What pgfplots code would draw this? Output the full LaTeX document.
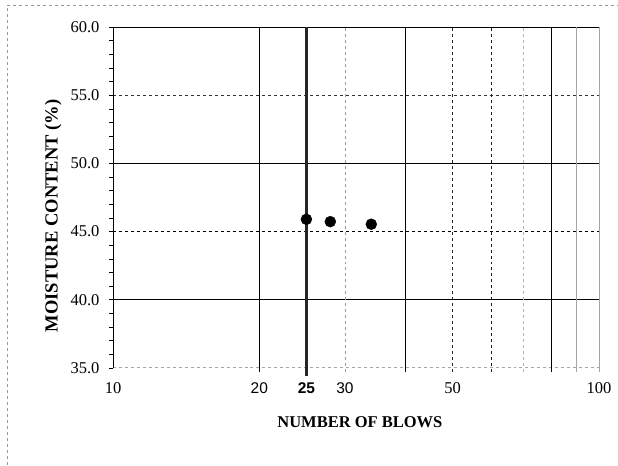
\documentclass[border=0pt]{standalone}
\usepackage{fontspec}
\setmainfont{Liberation Serif}
\newfontfamily\arialf{Liberation Sans}
\usepackage{pgfplots}
\pgfplotsset{compat=1.18}
\begin{document}
\begin{tikzpicture}
\useasboundingbox (0,0) rectangle (618bp,466bp);
\draw[gray!80, dashed, line width=0.8bp] (7bp,-5bp) -- (7bp,461bp) -- (625bp,461bp);
\begin{axis}[
  at={(113bp,98bp)}, anchor=south west,
  scale only axis, width=486bp, height=341bp,
  xmode=log, xmin=10, xmax=100, ymin=35, ymax=60,
  axis line style={draw=none},
  clip=false,
  xtick={10,20,25,30,50,100},
  xticklabels={10,{\arialf\fontsize{15.5bp}{17bp}\selectfont 20},{\arialf\bfseries\fontsize{15.5bp}{17bp}\selectfont 25},{\arialf\fontsize{15.5bp}{17bp}\selectfont 30},50,100},
  xtick style={draw=none},
  xminorticks=false,
  xticklabel style={font=\fontsize{16.5bp}{18bp}\selectfont, yshift=-7bp},
  ytick={35,40,45,50,55,60},
  yticklabels={35.0,40.0,45.0,50.0,55.0,60.0},
  minor y tick num=4,
  ytick pos=left,
  yticklabel style={font=\fontsize{16.5bp}{18bp}\selectfont, xshift=-6bp},
  tick align=outside,
  major tick length=4bp, minor tick length=4bp,
  ytick style={black, line width=0.6bp},
  every minor tick/.append style={black, line width=0.6bp},
  xlabel={\bfseries NUMBER OF BLOWS},
  xlabel style={font=\fontsize{16.5bp}{18bp}\selectfont, at={(axis description cs:0.508,-0.158)}, anchor=center},
  ylabel={\bfseries MOISTURE CONTENT (\%)},
  ylabel style={font=\fontsize{18.5bp}{20bp}\selectfont, at={(axis description cs:-0.123,0.446)}, anchor=center},
]
% horizontal grid lines
\draw[black, line width=0.9bp] (axis cs:10,60) -- (axis cs:100,60);
\draw[black!80, dashed, line width=0.7bp] (axis cs:10,55) -- (axis cs:100,55);
\draw[black, line width=0.9bp] (axis cs:10,50) -- (axis cs:100,50);
\draw[black, dashed, line width=1bp] (axis cs:10,45) -- (axis cs:100,45);
\draw[black, line width=0.9bp] (axis cs:10,40) -- (axis cs:100,40);
\draw[gray!70, dashed, line width=1bp] (axis cs:10,35) -- (axis cs:100,35);
% vertical grid lines
\draw[black, line width=0.9bp] (axis cs:10,35) -- (axis cs:10,60);
\draw[black, line width=0.9bp] (axis cs:20,34.7) -- (axis cs:20,60);
\draw[gray!80, dashed, line width=0.7bp] (axis cs:30,34.7) -- (axis cs:30,60);
\draw[black, line width=0.9bp] (axis cs:40,34.7) -- (axis cs:40,60);
\draw[black!85, dashed, line width=0.9bp] (axis cs:50,34.7) -- (axis cs:50,60);
\draw[black!90, dashed, line width=0.9bp] (axis cs:60,34.7) -- (axis cs:60,60);
\draw[gray!60, dashed, line width=0.8bp] (axis cs:70,34.7) -- (axis cs:70,60);
\draw[black, line width=0.9bp] (axis cs:80,34.7) -- (axis cs:80,60);
\draw[gray!70, line width=0.9bp] (axis cs:90,34.7) -- (axis cs:90,60);
\draw[gray!70, line width=0.9bp] (axis cs:100,34.7) -- (axis cs:100,60);
% 25 blows line
\addplot[black!85, line width=3.8bp, no marks] coordinates {(25,34.45) (25,60)};
% data
\addplot[only marks, mark=*, mark size=5.5bp, black] coordinates {(25,45.9) (28,45.73) (34,45.54)};
\end{axis}
\end{tikzpicture}
\end{document}
